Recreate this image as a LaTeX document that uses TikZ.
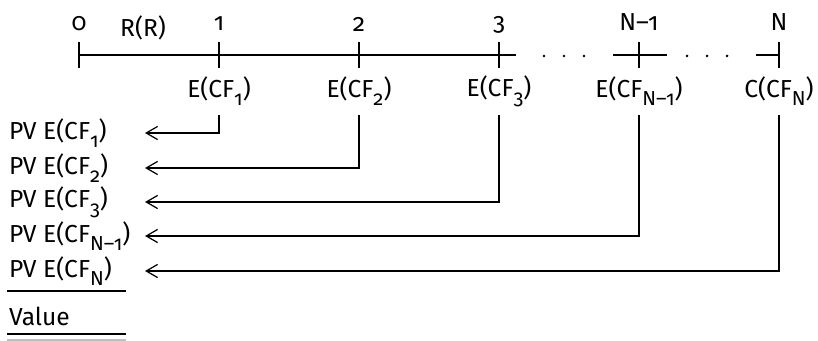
\documentclass[tikz,border=0pt]{standalone}
\usepackage{fontspec}
\setmainfont[Numbers=OldStyle]{Fira Sans}
\usetikzlibrary{arrows.meta, positioning, calc}

\newcommand{\sbs}[1]{\raisebox{-0.6ex}{\fontsize{11.5}{11.5}\selectfont #1}}

\tikzset{
  lbl/.style={inner sep=1pt, font=\fontsize{14}{17}\selectfont},
  tick/.style={line width=0.7pt},
  flow/.style={line width=0.7pt, -{Straight Barb[length=6.5pt, width=7.5pt]}},
  dot/.style={circle, fill, inner sep=0.7pt}
}

\begin{document}
\begin{tikzpicture}[x=0.02cm, y=-0.02cm]
      \useasboundingbox (0,0) rectangle (818,341);

      % time axis
      \coordinate (t0) at (79,55);
      \coordinate (t1) at (219,55);
      \coordinate (t2) at (359,55);
      \coordinate (t3) at (499,55);
      \coordinate (tn1) at (639,55);
      \coordinate (tn) at (779,55);

      \draw[tick] (t0) -- (516,55);
      \draw[tick] (613,55) -- (667,55);
      \draw[tick] (756,55) -- (tn);
      \foreach \t in {t0,t1,t2,t3,tn1,tn}
        \draw[tick] ($(\t)+(0,-13)$) -- ($(\t)+(0,13)$);

      \foreach \x in {544,564,584,687,707,727}
        \node[dot, inner sep=0.6pt] at (\x,56) {};

      % period labels
      \node[lbl] (p0) at (79,24) {0};
      \node[lbl] (rate) at (143,28) {R(R)};
      \node[lbl] (p1) at (219,24) {1};
      \node[lbl] (p2) at (359,24) {2};
      \node[lbl] (p3) at (499,25) {3};
      \node[lbl] (pn1) at (639,22) {N–1};
      \node[lbl] (pn) at (779,22) {N};

      % expected cash flows
      \node[lbl] (cf1) at (219,91) {E(CF\sbs{1})};
      \node[lbl] (cf2) at (359,91) {E(CF\sbs{2})};
      \node[lbl] (cf3) at (499,91) {E(CF\sbs{3})};
      \node[lbl] (cfn1) at (639,91) {E(CF\sbs{N–1})};
      \node[lbl] (cfn) at (779,91) {C(CF\sbs{N})};

      % present values
      \node[lbl, anchor=west] (pv1) at (7,133) {PV E(CF\sbs{1})};
      \node[lbl, anchor=west] (pv2) at (7,168) {PV E(CF\sbs{2})};
      \node[lbl, anchor=west] (pv3) at (7,202) {PV E(CF\sbs{3})};
      \node[lbl, anchor=west] (pvn1) at (7,236) {PV E(CF\sbs{N–1})};
      \node[lbl, anchor=west] (pvn) at (7,271) {PV E(CF\sbs{N})};
      \node[lbl, anchor=west] (val) at (7,316) {Value};

      \coordinate (e1) at (145,133);
      \coordinate (e2) at (145,168);
      \coordinate (e3) at (145,202);
      \coordinate (en1) at (145,236);
      \coordinate (en) at (145,271);

      \draw[flow] (219,115) |- (e1);
      \draw[flow] (359,115) |- (e2);
      \draw[flow] (499,115) |- (e3);
      \draw[flow] (639,115) |- (en1);
      \draw[flow] (779,115) |- (en);

      % sum lines
      \draw[tick] (7,291) -- (126,291);
      \draw[tick] (7,334) -- (126,334);
      \draw[tick, black!25] (7,340) -- (126,340);
    \end{tikzpicture}
\end{document}
